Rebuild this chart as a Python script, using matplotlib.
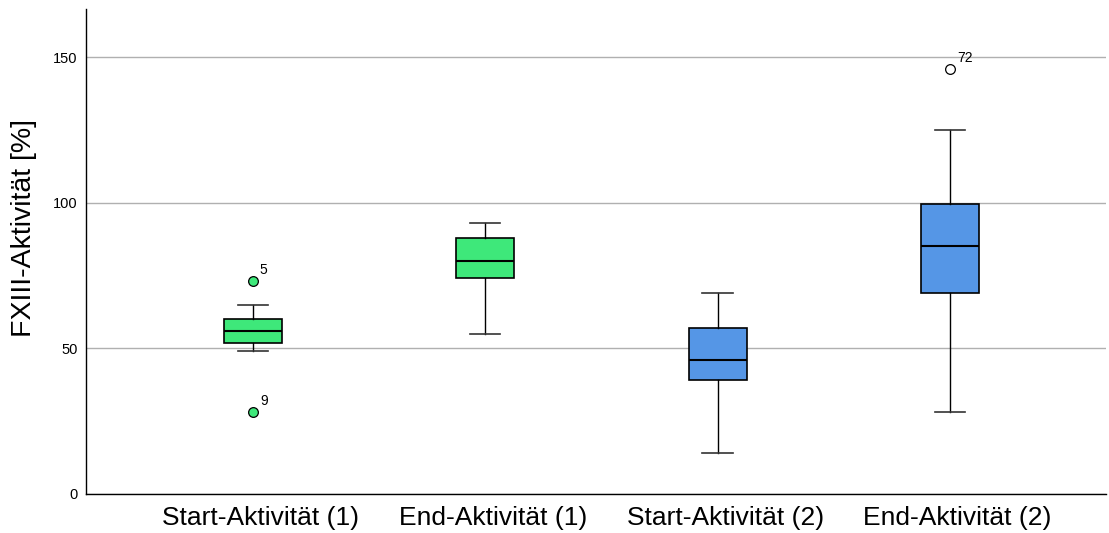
import matplotlib.pyplot as plt

plt.rcParams['font.family'] = ['Liberation Sans', 'DejaVu Sans']

# Box plot summary values
labels = ["Start-Aktivität (1)", "End-Aktivität (1)",
          "Start-Aktivität (2)", "End-Aktivität (2)"]
whislo = [49, 55, 14, 28]
q1 = [52, 74, 39, 69]
med = [56, 80, 46, 85]
q3 = [60, 88, 57, 99.5]
whishi = [65, 93, 69, 125]
fliers = [[73, 28], [], [], [146]]
flier_ids = [["5", "9"], [], [], ["72"]]
colors = ["#3ee87a", "#3ee87a", "#5596e6", "#5596e6"]
flier_face = ["#3ee87a", None, None, "white"]

stats = []
for i in range(len(labels)):
    stats.append(dict(label=labels[i], whislo=whislo[i], q1=q1[i], med=med[i],
                      q3=q3[i], whishi=whishi[i], fliers=fliers[i]))

fig = plt.figure(figsize=(11.09, 5.33), dpi=100)
ax = fig.add_axes([0.0775, 0.0732, 0.9198, 0.9099])

pos = [1, 2, 3, 4]
bp = ax.bxp(stats, positions=pos, widths=0.25, patch_artist=True,
            showfliers=True,
            boxprops=dict(edgecolor="black", linewidth=1.2),
            medianprops=dict(color="black", linewidth=1.5),
            whiskerprops=dict(color="black", linewidth=1),
            capprops=dict(color="#333333", linewidth=1.2),
            capwidths=0.13)
for patch, c in zip(bp["boxes"], colors):
    patch.set_facecolor(c)
for fl, fc in zip(bp["fliers"], flier_face):
    fl.set_marker("o")
    fl.set_markersize(7)
    fl.set_markeredgecolor("black")
    fl.set_markeredgewidth(0.9)
    if fc is not None:
        fl.set_markerfacecolor(fc)

for p, vals, ids in zip(pos, fliers, flier_ids):
    for v, t in zip(vals, ids):
        ax.annotate(t, (p, v), xytext=(5, 3), textcoords="offset points",
                    fontsize=10, ha="left", va="bottom")

ax.set_xlim(0.281, 4.672)
ax.set_ylim(0, 166.5)
ax.set_yticks([0, 50, 100, 150])
ax.set_yticklabels(["0", "50", "100", "150"], fontsize=10.5)
# category labels sit slightly right of the box centres in the original
ax.set_xticks([p + 0.033 for p in pos])
ax.set_xticklabels(labels, fontsize=19)
ax.tick_params(axis="both", length=0)
ax.tick_params(axis="x", pad=9)
ax.tick_params(axis="y", pad=6)
ax.yaxis.grid(True, color="#b0b0b0", linewidth=1)
ax.set_axisbelow(True)
ax.set_ylabel("FXIII-Aktivität [%]", fontsize=20.5)
ax.yaxis.set_label_coords(-0.048, 0.548)
for s in ["top", "right"]:
    ax.spines[s].set_visible(False)
for s in ["left", "bottom"]:
    ax.spines[s].set_linewidth(1)

fig.savefig("out.png", dpi=100)
